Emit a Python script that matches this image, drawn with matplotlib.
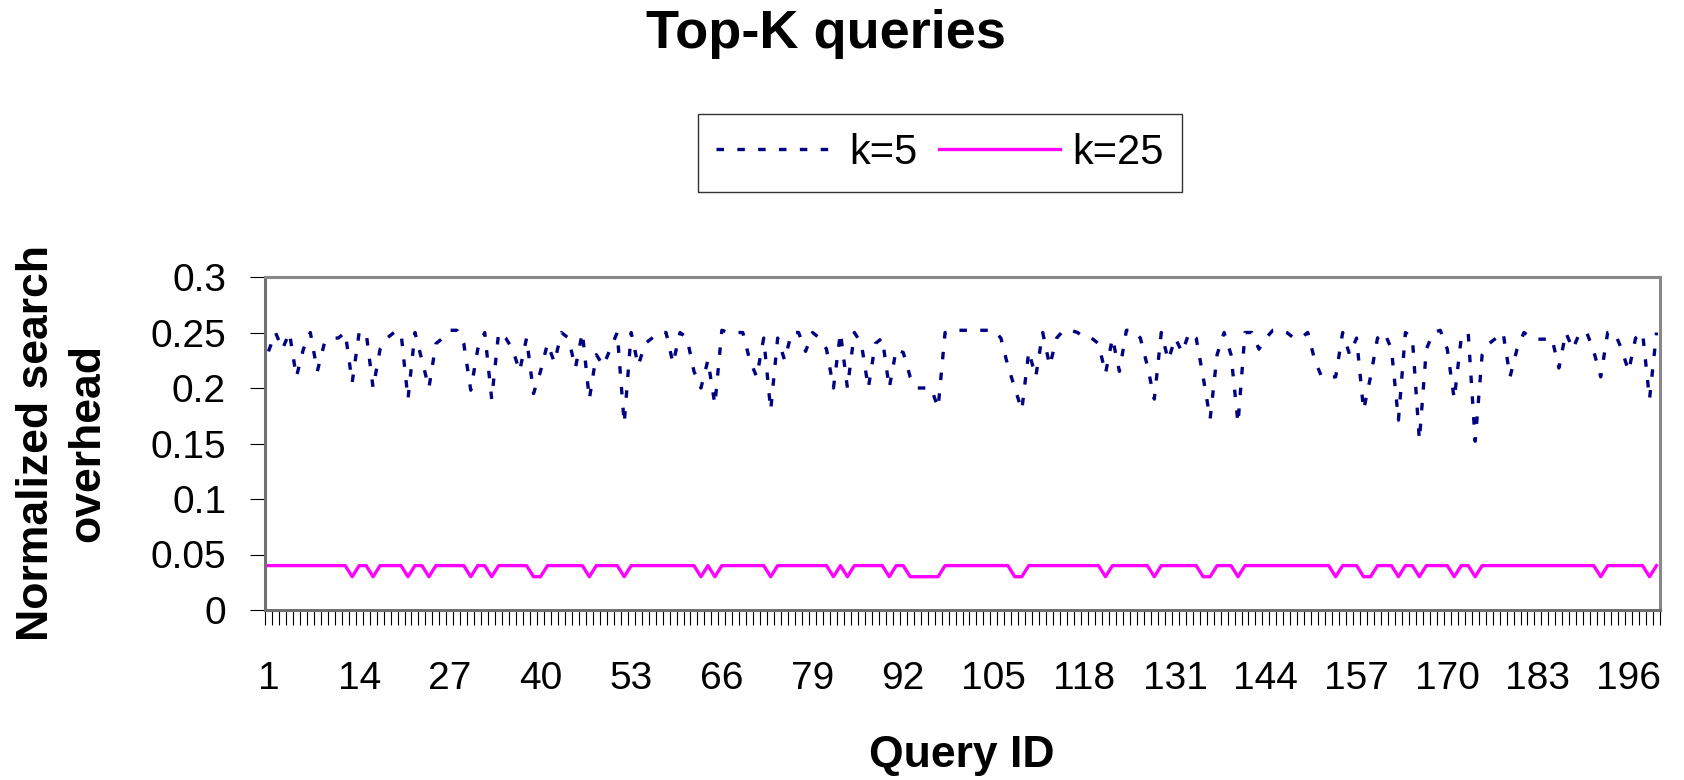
import matplotlib
matplotlib.use('Agg')
import matplotlib.pyplot as plt
import numpy as np

plt.rcParams['font.family'] = ['Liberation Sans', 'DejaVu Sans']

# normalized search overhead per query, k=5 and k=25
query_ids = np.arange(1, 201)

k5 = [
    0.233, 0.25, 0.235, 0.25, 0.21, 0.235, 0.25, 0.215, 0.24, 0.245,
    0.245, 0.25, 0.205, 0.25, 0.25, 0.2, 0.235, 0.245, 0.25, 0.25,
    0.19, 0.25, 0.225, 0.2, 0.24, 0.245, 0.252, 0.252, 0.24, 0.198,
    0.235, 0.25, 0.19, 0.25, 0.245, 0.235, 0.215, 0.245, 0.195, 0.215,
    0.24, 0.223, 0.25, 0.245, 0.218, 0.25, 0.19, 0.23, 0.22, 0.235,
    0.25, 0.168, 0.25, 0.22, 0.24, 0.245, 0.25, 0.25, 0.222, 0.25,
    0.245, 0.215, 0.2, 0.225, 0.185, 0.252, 0.25, 0.25, 0.25, 0.225,
    0.21, 0.245, 0.18, 0.245, 0.225, 0.25, 0.25, 0.233, 0.25, 0.245,
    0.235, 0.2, 0.25, 0.2, 0.25, 0.24, 0.2, 0.24, 0.245, 0.2,
    0.235, 0.232, 0.21, 0.2, 0.2, 0.2, 0.182, 0.25, 0.25, 0.252,
    0.252, 0.252, 0.252, 0.252, 0.252, 0.245, 0.22, 0.2, 0.18, 0.233,
    0.21, 0.25, 0.22, 0.245, 0.252, 0.252, 0.25, 0.245, 0.245, 0.24,
    0.213, 0.245, 0.215, 0.252, 0.252, 0.245, 0.22, 0.19, 0.25, 0.225,
    0.245, 0.232, 0.25, 0.245, 0.21, 0.172, 0.23, 0.25, 0.23, 0.168,
    0.25, 0.25, 0.235, 0.245, 0.252, 0.252, 0.25, 0.245, 0.245, 0.25,
    0.225, 0.21, 0.21, 0.21, 0.25, 0.23, 0.245, 0.18, 0.21, 0.245,
    0.25, 0.235, 0.171, 0.25, 0.245, 0.153, 0.235, 0.25, 0.252, 0.235,
    0.19, 0.245, 0.25, 0.152, 0.23, 0.24, 0.245, 0.25, 0.21, 0.235,
    0.25, 0.245, 0.244, 0.244, 0.245, 0.218, 0.25, 0.235, 0.25, 0.25,
    0.233, 0.21, 0.25, 0.25, 0.235, 0.215, 0.245, 0.25, 0.19, 0.25,
]

k25 = [
    0.04, 0.04, 0.04, 0.04, 0.04, 0.04, 0.04, 0.04, 0.04, 0.04,
    0.04, 0.04, 0.03, 0.04, 0.04, 0.03, 0.04, 0.04, 0.04, 0.04,
    0.03, 0.04, 0.04, 0.03, 0.04, 0.04, 0.04, 0.04, 0.04, 0.03,
    0.04, 0.04, 0.03, 0.04, 0.04, 0.04, 0.04, 0.04, 0.03, 0.03,
    0.04, 0.04, 0.04, 0.04, 0.04, 0.04, 0.03, 0.04, 0.04, 0.04,
    0.04, 0.03, 0.04, 0.04, 0.04, 0.04, 0.04, 0.04, 0.04, 0.04,
    0.04, 0.04, 0.03, 0.04, 0.03, 0.04, 0.04, 0.04, 0.04, 0.04,
    0.04, 0.04, 0.03, 0.04, 0.04, 0.04, 0.04, 0.04, 0.04, 0.04,
    0.04, 0.03, 0.04, 0.03, 0.04, 0.04, 0.04, 0.04, 0.04, 0.03,
    0.04, 0.04, 0.03, 0.03, 0.03, 0.03, 0.03, 0.04, 0.04, 0.04,
    0.04, 0.04, 0.04, 0.04, 0.04, 0.04, 0.04, 0.03, 0.03, 0.04,
    0.04, 0.04, 0.04, 0.04, 0.04, 0.04, 0.04, 0.04, 0.04, 0.04,
    0.03, 0.04, 0.04, 0.04, 0.04, 0.04, 0.04, 0.03, 0.04, 0.04,
    0.04, 0.04, 0.04, 0.04, 0.03, 0.03, 0.04, 0.04, 0.04, 0.03,
    0.04, 0.04, 0.04, 0.04, 0.04, 0.04, 0.04, 0.04, 0.04, 0.04,
    0.04, 0.04, 0.04, 0.03, 0.04, 0.04, 0.04, 0.03, 0.03, 0.04,
    0.04, 0.04, 0.03, 0.04, 0.04, 0.03, 0.04, 0.04, 0.04, 0.04,
    0.03, 0.04, 0.04, 0.03, 0.04, 0.04, 0.04, 0.04, 0.04, 0.04,
    0.04, 0.04, 0.04, 0.04, 0.04, 0.04, 0.04, 0.04, 0.04, 0.04,
    0.04, 0.03, 0.04, 0.04, 0.04, 0.04, 0.04, 0.04, 0.03, 0.04,
]

x_labels = list(range(1, 201, 13))
y_ticks = [0, 0.05, 0.1, 0.15, 0.2, 0.25, 0.3]
y_labels = ['0', '0.05', '0.1', '0.15', '0.2', '0.25', '0.3']

fig = plt.figure(figsize=(16.84, 7.80), dpi=100)
ax = fig.add_axes([265 / 1684, 1 - 610 / 780, 1395 / 1684, 333 / 780])

ax.plot(query_ids, k5, color='#000080', lw=2.4, dashes=(2.25, 4.0),
        dash_capstyle='butt', label='k=5')
ax.plot(query_ids, k25, color='#FF00FF', lw=2.4, label='k=25')

ax.set_xlim(0.5, len(query_ids) + 0.5)
ax.set_ylim(0, 0.3)

# category labels every 13 queries, tick marks between categories
ax.set_xticks(x_labels)
ax.set_xticklabels([str(v) for v in x_labels], fontsize=28)
ax.set_xticks(np.arange(0.5, len(query_ids) + 1), minor=True)
ax.tick_params(axis='x', which='major', length=0, pad=37)
ax.tick_params(axis='x', which='minor', length=11, width=0.8,
               direction='out', color='black')

ax.set_yticks(y_ticks)
ax.set_yticklabels(y_labels, fontsize=28)
ax.tick_params(axis='y', length=11, width=0.8, direction='out',
               color='black', pad=17)

for side in ['top', 'right']:
    ax.spines[side].set_color('#888888')
    ax.spines[side].set_linewidth(2.2)
for side in ['left', 'bottom']:
    ax.spines[side].set_color('#707070')
    ax.spines[side].set_linewidth(2.2)

fig.text(826 / 1684, 1 - 34 / 780, 'Top-K queries', fontsize=39,
         fontweight='bold', ha='center', va='center')
fig.text(962 / 1684, 1 - 755 / 780, 'Query ID', fontsize=32,
         fontweight='bold', ha='center', va='center')
fig.text(62 / 1684, 1 - 443 / 780, 'Normalized search\noverhead',
         fontsize=32, fontweight='bold', rotation=90, ha='center',
         va='center', multialignment='center', linespacing=1.3)

leg = fig.legend(loc='center', bbox_to_anchor=(940 / 1684, 1 - 153 / 780),
                 ncol=2, fontsize=30, frameon=True, fancybox=False,
                 handlelength=2.9, handletextpad=0.3, columnspacing=0.5,
                 borderpad=0.45)
leg.get_frame().set_edgecolor('black')
leg.get_frame().set_linewidth(1.0)

fig.savefig('out.png', dpi=100)
